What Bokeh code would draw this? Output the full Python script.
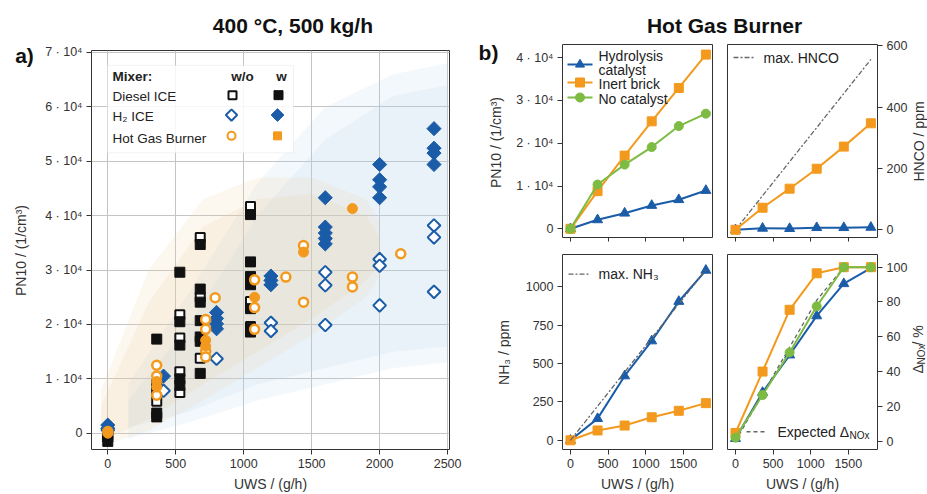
import numpy as np
from bokeh.plotting import figure
from bokeh.layouts import row, column
from bokeh.models import Label, BoxAnnotation, FixedTicker, Range1d
from bokeh.embed import file_html
from bokeh.resources import INLINE

FONT = "Liberation Sans"
BLACK = "#111111"
BLUE = "#1b5ca8"
ORANGE = "#f39a1e"
GREEN = "#7dbb42"
GRAY = "#666666"
TXT = "#333333"

# ---------------- Panel a data (PN10 vs UWS) ----------------
diesel_wo_x = [0, 360, 360, 530, 530, 530, 530, 680, 680, 680, 1050, 1050, 1050]
diesel_wo_y = [-300, 5900, 9000, 21800, 17500, 11300, 7500, 36000, 25000, 13800, 41700, 24200, 19600]
diesel_w_x = [0, 0, 360, 360, 360, 360, 530, 530, 530, 530, 530,
              680, 680, 680, 680, 680, 680, 680,
              1050, 1050, 1050, 1050, 1050, 1050, 1050]
diesel_w_y = [-700, -1500, 17300, 7800, 3700, 3000, 29600, 20500, 16200, 10000, 8800,
              34700, 26500, 24100, 20700, 17700, 16900, 11000,
              40200, 31500, 28800, 27300, 22900, 19300, 18600]
h2_wo_x = [0, 410, 800, 1200, 1200, 1600, 1600, 1600, 2000, 2000, 2000, 2400, 2400, 2400]
h2_wo_y = [600, 7800, 13700, 20300, 18800, 29600, 27200, 19900, 32000, 30800, 23500, 38200, 36000, 26000]
h2_w_x = [0, 0, 410, 800, 800, 800, 800, 1200, 1200, 1200,
          1600, 1600, 1600, 1600, 1600, 2000, 2000, 2000, 2000, 2400, 2400, 2400, 2400]
h2_w_y = [1500, 900, 10500, 22200, 21100, 20100, 19200, 28900, 28100, 27300,
          43300, 37900, 36800, 35800, 34800, 49400, 46600, 45300, 43300, 56000, 52400, 51500, 49400]
hgb_wo_x = [0, 360, 360, 360, 720, 720, 720, 720, 790, 1080, 1080, 1080, 1310, 1440, 1440, 1800, 1800, 2155]
hgb_wo_y = [300, 12500, 10500, 7000, 20900, 19100, 15100, 14000, 24900, 28200, 23100, 19100,
            28700, 34500, 24100, 28700, 26900, 33000]
hgb_w_x = [0, 360, 360, 720, 720, 1080, 1440, 1800]
hgb_w_y = [0, 9500, 8500, 17100, 16000, 25000, 33300, 41300]

# soft background clouds (panel a), outer and inner layers
bg_blue_x = [150, 600, 1100, 1600, 2100, 2500]
bg_blue_lo_outer = [-1000, 2000, 6000, 9000, 12000, 13000]
bg_blue_hi_outer = [9000, 26000, 46000, 60000, 66000, 68000]
bg_blue_lo_inner = [1000, 4000, 9000, 12000, 15000, 16000]
bg_blue_hi_inner = [6000, 20000, 40000, 54000, 62000, 64000]
bg_orange_x = [-50, 300, 700, 1100, 1500, 1900, 2000]
bg_orange_lo_outer = [-2500, 500, 6000, 12000, 18000, 25000, 29000]
bg_orange_hi_outer = [8000, 30000, 43000, 47000, 47000, 43000, 39000]
bg_orange_lo_inner = [-1500, 2500, 9000, 15000, 21000, 28000, 31000]
bg_orange_hi_inner = [5000, 24000, 38000, 43000, 44000, 40000, 36000]

a_xticks = [0, 500, 1000, 1500, 2000, 2500]
a_yticks = [0, 10000, 20000, 30000, 40000, 50000, 60000, 70000]
a_ytick_labels = ["0", "1 · 10⁴", "2 · 10⁴", "3 · 10⁴", "4 · 10⁴", "5 · 10⁴", "6 · 10⁴", "7 · 10⁴"]

# ---------------- Panel b data (Hot Gas Burner) ----------------
uws = [0, 360, 720, 1080, 1440, 1800]
pn_hydro = [0, 2100, 3650, 5450, 6800, 8950]
pn_inert = [0, 8800, 17100, 25100, 32900, 40700]
pn_nocat = [0, 10350, 15000, 19100, 24000, 26900]
hnco_hydro = [0, 5, 4, 7, 7, 8]
hnco_inert = [0, 72, 134, 199, 271, 347]
max_x = [0, 1800]
hnco_max = [0, 555]
nh3_hydro = [0, 141, 419, 647, 904, 1107]
nh3_inert = [0, 64, 96, 150, 192, 242]
nh3_max = [0, 1110]
dnox_hydro = [1.5, 28, 49.5, 72, 90.5, 99.5]
dnox_inert = [4.7, 40, 75.5, 96.5, 100, 100]
dnox_nocat = [2, 26.5, 51, 77.5, 100, 100]
dnox_expected = [0, 27, 54, 81, 100, 100]

b_xticks = [0, 500, 1000, 1500]
pn_yticks = [0, 10000, 20000, 30000, 40000]
pn_ytick_labels = ["0", "1 · 10⁴", "2 · 10⁴", "3 · 10⁴", "4 · 10⁴"]
hnco_yticks = [0, 200, 400, 600]
nh3_yticks = [0, 250, 500, 750, 1000]
dnox_yticks = [0, 20, 40, 60, 80, 100]


def mapper(frame, xr, yr):
    fl, ft, fr, fb = frame

    def fx(px):
        return xr[0] + (px - fl) / (fr - fl) * (xr[1] - xr[0])

    def fy(py):
        return yr[0] + (fb - py) / (fb - ft) * (yr[1] - yr[0])
    return fx, fy


def add_text(p, fx, fy, px, py, text, size="14px", bold=False, align="left",
             baseline="middle", color="#222222", angle=0.0):
    p.add_layout(Label(x=fx(px), y=fy(py), text=text, text_font=FONT, text_font_size=size,
                       text_font_style="bold" if bold else "normal", text_align=align,
                       text_baseline=baseline, text_color=color, angle=angle))


def style_axis(ax):
    ax.major_label_text_font = FONT
    ax.major_label_text_font_size = "12.5px"
    ax.major_label_text_color = TXT
    ax.major_label_standoff = 4
    ax.axis_label_text_font = FONT
    ax.axis_label_text_font_size = "14px"
    ax.axis_label_text_font_style = "normal"
    ax.axis_label_text_color = TXT
    ax.axis_line_color = None
    ax.major_tick_line_color = TXT
    ax.major_tick_out = 5
    ax.major_tick_in = 0
    ax.minor_tick_line_color = None


def make_fig(width, height, xr, yr, borders, y_loc="left"):
    p = figure(width=width, height=height, x_range=Range1d(*xr), y_range=Range1d(*yr),
               output_backend="svg", toolbar_location=None, y_axis_location=y_loc,
               min_border_left=borders[0], min_border_right=borders[1],
               min_border_top=borders[2], min_border_bottom=borders[3])
    p.outline_line_color = "#333333"
    p.outline_line_width = 1
    p.background_fill_color = "white"
    p.border_fill_color = "white"
    p.xgrid.visible = False
    p.ygrid.visible = False
    for ax in p.xaxis + p.yaxis:
        style_axis(ax)
    return p


def strip(width, height, x0, y0):
    """Blank text strip; its data coordinates equal page pixels."""
    s = figure(width=width, height=height, x_range=Range1d(x0, x0 + width),
               y_range=Range1d(-(y0 + height), -y0), output_backend="svg",
               toolbar_location=None, x_axis_location=None, y_axis_location=None, min_border=0)
    s.outline_line_color = None
    s.grid.visible = False
    s.background_fill_color = "white"
    s.border_fill_color = "white"
    return s


def ident(v):
    return v


def neg(v):
    return -v


# ================= Panel a =================
A_XR = (-120, 2514)
A_YR = (-2993, 70365)

sa = strip(40, 494, 0, 0)
add_text(sa, ident, neg, 24, 55, "a)", size="21px", bold=True, align="center", color="#111111")
add_text(sa, ident, neg, 20, 250, "PN10 / (1/cm³)", align="center", color=TXT, angle=np.pi / 2)

ta = strip(423, 38, 40, 0)
add_text(ta, ident, neg, 278, 25, "400 °C, 500 kg/h", size="21px", bold=True, align="center", color="#111111")

pa = make_fig(423, 456, A_XR, A_YR, (51, 14, 12, 42))
fxa, fya = mapper((91, 50, 449, 452), A_XR, A_YR)
pa.xgrid.visible = True
pa.ygrid.visible = True
pa.grid.grid_line_color = "#c4c4c4"
pa.grid.grid_line_width = 1
pa.xaxis.ticker = FixedTicker(ticks=a_xticks)
pa.yaxis.ticker = FixedTicker(ticks=a_yticks)
pa.yaxis.major_label_overrides = {t: l for t, l in zip(a_yticks, a_ytick_labels)}
pa.xaxis.axis_label = "UWS / (g/h)"
pa.xaxis.axis_label_standoff = 5

pa.varea(x=bg_blue_x, y1=bg_blue_lo_outer, y2=bg_blue_hi_outer, fill_color="#b7d2ee", fill_alpha=0.16)
pa.varea(x=bg_blue_x, y1=bg_blue_lo_inner, y2=bg_blue_hi_inner, fill_color="#b7d2ee", fill_alpha=0.16)
pa.varea(x=bg_orange_x, y1=bg_orange_lo_outer, y2=bg_orange_hi_outer, fill_color="#efcf9f", fill_alpha=0.17)
pa.varea(x=bg_orange_x, y1=bg_orange_lo_inner, y2=bg_orange_hi_inner, fill_color="#efcf9f", fill_alpha=0.17)

pa.scatter(diesel_wo_x, diesel_wo_y, marker="square", size=9, fill_color="white", line_color=BLACK, line_width=2)
pa.scatter(diesel_w_x, diesel_w_y, marker="square", size=10, fill_color=BLACK, line_color=BLACK)
pa.scatter(h2_wo_x, h2_wo_y, marker="square", angle=np.pi / 4, size=9, fill_color="white", line_color=BLUE, line_width=2)
pa.scatter(h2_w_x, h2_w_y, marker="square", angle=np.pi / 4, size=10, fill_color=BLUE, line_color=BLUE)
pa.scatter(hgb_wo_x, hgb_wo_y, marker="circle", size=9, fill_color="white", line_color=ORANGE, line_width=2.5)
pa.scatter(hgb_w_x, hgb_w_y, marker="circle", size=10, fill_color=ORANGE, line_color=ORANGE)

# legend of panel a
pa.add_layout(BoxAnnotation(left=fxa(107), right=fxa(293), top=fya(65), bottom=fya(153),
                            fill_color="white", fill_alpha=0.85, line_color="#d4d4d4", line_width=1))
add_text(pa, fxa, fya, 112, 76, "Mixer:", size="13.5px", bold=True)
add_text(pa, fxa, fya, 242, 76, "w/o", size="13.5px", bold=True, align="center")
add_text(pa, fxa, fya, 281, 76, "w", size="13.5px", bold=True, align="center")
add_text(pa, fxa, fya, 112, 96, "Diesel ICE", size="13.5px")
add_text(pa, fxa, fya, 112, 116, "H₂ ICE", size="13.5px")
add_text(pa, fxa, fya, 112, 139, "Hot Gas Burner", size="13.5px")
pa.scatter([fxa(232)], [fya(95)], marker="square", size=8, fill_color="white", line_color=BLACK, line_width=2, level="overlay")
pa.scatter([fxa(278)], [fya(95)], marker="square", size=9, fill_color=BLACK, line_color=BLACK, level="overlay")
pa.scatter([fxa(231)], [fya(115)], marker="square", angle=np.pi / 4, size=8, fill_color="white", line_color=BLUE, line_width=2, level="overlay")
pa.scatter([fxa(277)], [fya(115)], marker="square", angle=np.pi / 4, size=9, fill_color=BLUE, line_color=BLUE, level="overlay")
pa.scatter([fxa(231)], [fya(136)], marker="circle", size=8, fill_color="white", line_color=ORANGE, line_width=2, level="overlay")
pa.scatter([fxa(277)], [fya(136)], marker="square", size=8, fill_color=ORANGE, line_color=ORANGE, level="overlay")

# ================= Panel b =================
sb = strip(48, 494, 463, 0)
add_text(sb, ident, neg, 488, 52, "b)", size="21px", bold=True, align="center", color="#111111")
add_text(sb, ident, neg, 495, 142, "PN10 / (1/cm³)", align="center", color=TXT, angle=np.pi / 2)
add_text(sb, ident, neg, 503, 352, "NH₃ / ppm", align="center", color=TXT, angle=np.pi / 2)

tf = strip(400, 38, 511, 0)
add_text(tf, ident, neg, 724, 25, "Hot Gas Burner", size="21px", bold=True, align="center", color="#111111")

sr = strip(16, 494, 911, 0)
add_text(sr, ident, neg, 918.5, 141, "HNCO / ppm", align="center", color=TXT, angle=np.pi / 2)
add_text(sr, ident, neg, 917.5, 373, "Δ", color=TXT, angle=np.pi / 2)
add_text(sr, ident, neg, 920.5, 364, "NOx", size="10px", color=TXT, angle=np.pi / 2)
add_text(sr, ident, neg, 917.5, 345, " / %", color=TXT, angle=np.pi / 2)

B_XR = (-106, 1888)
TL_YR = (-2030, 43060)
TR_YR = (-25, 603.6)
BL_YR = (-60, 1210)
BR_YR = (-4.8, 107.3)


def hide_x_labels(p):
    p.xaxis.major_label_text_font_size = "1px"
    p.xaxis.major_label_text_color = None
    p.xaxis.major_label_standoff = 0
    p.xaxis.major_tick_out = 4


# --- top left: PN10
tl = make_fig(208, 207, B_XR, TL_YR, (51, 7, 6, 8))
ftlx, ftly = mapper((562, 44, 712, 237), B_XR, TL_YR)
tl.xaxis.ticker = FixedTicker(ticks=b_xticks)
hide_x_labels(tl)
tl.yaxis.ticker = FixedTicker(ticks=pn_yticks)
tl.yaxis.major_label_overrides = {t: l for t, l in zip(pn_yticks, pn_ytick_labels)}
tl.line(uws, pn_hydro, color=BLUE, line_width=2)
tl.scatter(uws, pn_hydro, marker="triangle", size=10, color=BLUE)
tl.line(uws, pn_inert, color=ORANGE, line_width=2)
tl.scatter(uws, pn_inert, marker="square", size=9, color=ORANGE)
tl.line(uws, pn_nocat, color=GREEN, line_width=2)
tl.scatter(uws, pn_nocat, marker="circle", size=9, color=GREEN)
for py, col, mk in ((64, BLUE, "triangle"), (82, ORANGE, "square"), (97, GREEN, "circle")):
    tl.line([ftlx(567), ftlx(592)], [ftly(py), ftly(py)], color=col, line_width=2)
    tl.scatter([ftlx(579.5)], [ftly(py)], marker=mk, size=9, color=col)
add_text(tl, ftlx, ftly, 598, 55, "Hydrolysis")
add_text(tl, ftlx, ftly, 598, 69.5, "catalyst")
add_text(tl, ftlx, ftly, 598, 83, "Inert brick")
add_text(tl, ftlx, ftly, 598, 98, "No catalyst")

# --- top right: HNCO
tr = make_fig(192, 207, B_XR, TR_YR, (8, 34, 6, 8), y_loc="right")
ftrx, ftry = mapper((727, 44, 877, 237), B_XR, TR_YR)
tr.xaxis.ticker = FixedTicker(ticks=b_xticks)
hide_x_labels(tr)
tr.yaxis.ticker = FixedTicker(ticks=hnco_yticks)
tr.line(max_x, hnco_max, color=GRAY, line_width=1.3, line_dash="5 2 2 2")
tr.line(uws, hnco_hydro, color=BLUE, line_width=2)
tr.scatter(uws, hnco_hydro, marker="triangle", size=10, color=BLUE)
tr.line(uws, hnco_inert, color=ORANGE, line_width=2)
tr.scatter(uws, hnco_inert, marker="square", size=9, color=ORANGE)
tr.line([ftrx(733), ftrx(754)], [ftry(57), ftry(57)], color=GRAY, line_width=1.3, line_dash="5 2 2 2")
add_text(tr, ftrx, ftry, 763, 57, "max. HNCO")

# --- bottom left: NH3
bl = make_fig(208, 249, B_XR, BL_YR, (51, 7, 9, 42))
fblx, fbly = mapper((562, 254, 712, 452), B_XR, BL_YR)
bl.xaxis.ticker = FixedTicker(ticks=b_xticks)
bl.yaxis.ticker = FixedTicker(ticks=nh3_yticks)
bl.xaxis.axis_label = "UWS / (g/h)"
bl.xaxis.axis_label_standoff = 5
bl.line(uws, nh3_hydro, color=BLUE, line_width=2)
bl.scatter(uws, nh3_hydro, marker="triangle", size=10, color=BLUE)
bl.line(uws, nh3_inert, color=ORANGE, line_width=2)
bl.scatter(uws, nh3_inert, marker="square", size=9, color=ORANGE)
bl.line(max_x, nh3_max, color=GRAY, line_width=1.3, line_dash="5 2 2 2")
bl.line([fblx(568), fblx(588)], [fbly(274), fbly(274)], color=GRAY, line_width=1.3, line_dash="5 2 2 2")
add_text(bl, fblx, fbly, 598, 274, "max. NH₃")

# --- bottom right: delta NOx
br = make_fig(192, 249, B_XR, BR_YR, (8, 34, 9, 42), y_loc="right")
fbrx, fbry = mapper((727, 254, 877, 452), B_XR, BR_YR)
br.xaxis.ticker = FixedTicker(ticks=b_xticks)
br.yaxis.ticker = FixedTicker(ticks=dnox_yticks)
br.xaxis.axis_label = "UWS / (g/h)"
br.xaxis.axis_label_standoff = 5
br.line(uws, dnox_expected, color=GRAY, line_width=1.3, line_dash="4 3")
br.line(uws, dnox_hydro, color=BLUE, line_width=2)
br.scatter(uws, dnox_hydro, marker="triangle", size=10, color=BLUE)
br.line(uws, dnox_inert, color=ORANGE, line_width=2)
br.scatter(uws, dnox_inert, marker="square", size=9, color=ORANGE)
br.line(uws, dnox_nocat, color=GREEN, line_width=2)
br.scatter(uws, dnox_nocat, marker="circle", size=9, color=GREEN)
br.line([fbrx(746), fbrx(767)], [fbry(434), fbry(434)], color=GRAY, line_width=1.3, line_dash="4 3")
add_text(br, fbrx, fbry, 777, 434, "Expected Δ")
add_text(br, fbrx, fbry, 849, 438, "NOx", size="10px")

layout = row(sa, column(ta, pa), sb, column(tf, row(tl, tr), row(bl, br)), sr)
open("out.html", "w").write(file_html(layout, INLINE))
